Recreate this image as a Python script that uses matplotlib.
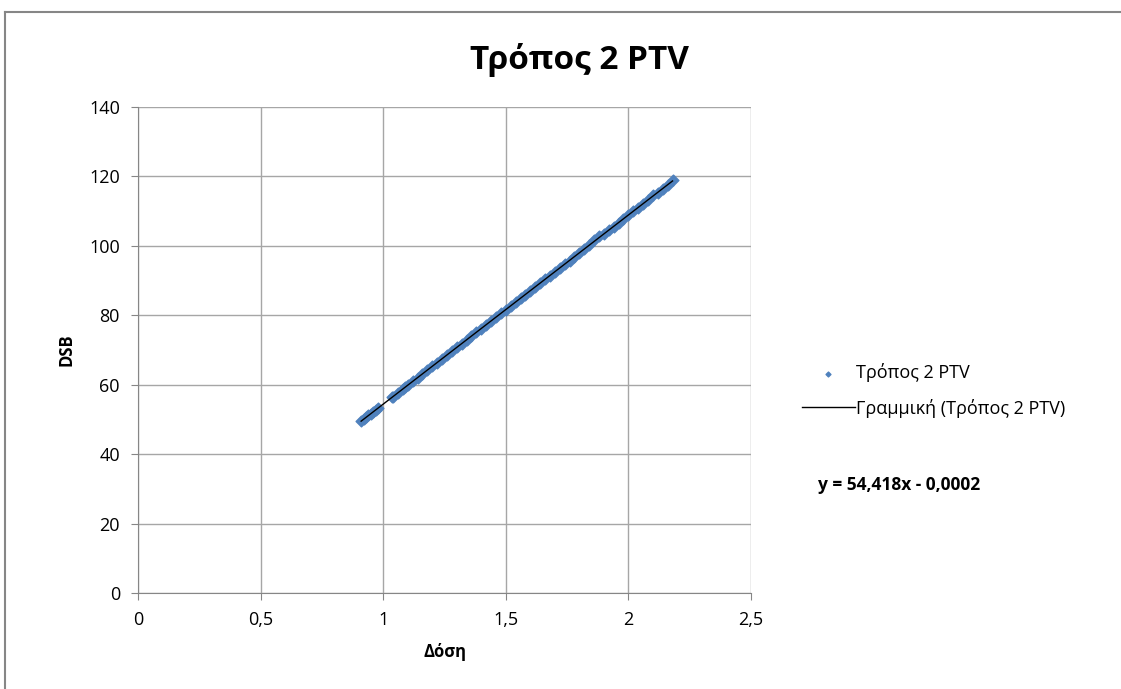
import matplotlib
matplotlib.use("Agg")
import matplotlib.pyplot as plt
import numpy as np
from matplotlib.lines import Line2D

plt.rcParams['font.family'] = ['Open Sans', 'DejaVu Sans']

# dose (x) and DSB (y) values
dose = [0.91, 0.92, 0.93, 0.94, 0.95, 0.96, 0.97, 0.98, 1.035, 1.04,
        1.06, 1.08, 1.09, 1.10, 1.12, 1.14, 1.16, 1.18, 1.20, 1.22, 1.24, 1.26,
        1.28, 1.30, 1.32, 1.34, 1.36, 1.38, 1.40, 1.42, 1.44, 1.46,
        1.48, 1.50, 1.52, 1.54, 1.56, 1.58, 1.60, 1.62, 1.64, 1.66,
        1.68, 1.70, 1.72, 1.74, 1.76, 1.78, 1.80, 1.82, 1.84, 1.86,
        1.88, 1.90, 1.92, 1.94, 1.96, 1.98, 2.00, 2.02, 2.04, 2.06,
        2.08, 2.10, 2.12, 2.14, 2.16, 2.18]
dsb = [49.52, 50.06, 50.61, 51.15, 51.70, 52.24, 52.79, 53.33, 56.32, 56.59,
       57.68, 58.77, 59.32, 59.86, 60.95, 62.04, 63.12, 64.21, 65.30, 66.39, 67.48, 68.57,
       69.66, 70.74, 71.83, 72.92, 74.01, 75.10, 76.19, 77.27, 78.36, 79.45,
       80.54, 81.63, 82.72, 83.80, 84.89, 85.98, 87.07, 88.16, 89.25, 90.33,
       91.42, 92.51, 93.60, 94.69, 95.78, 96.86, 97.95, 99.04, 100.13, 101.6,
       102.8, 103.39, 104.48, 105.57, 106.66, 107.75, 108.84, 109.92, 111.01, 112.10,
       113.19, 114.6, 115.37, 116.45, 117.54, 118.9]

xticks = [0, 0.5, 1, 1.5, 2, 2.5]
xtick_labels = ["0", "0,5", "1", "1,5", "2", "2,5"]
yticks = [0, 20, 40, 60, 80, 100, 120, 140]

fig = plt.figure(figsize=(11.21, 6.89), dpi=100)
ax = fig.add_axes([138/1121, 1 - 593/689, (751 - 138)/1121, (593 - 107)/689])

# chart area border
fig.add_artist(Line2D([5/1121, 5/1121], [0, 1 - 12/689], color="#868686", lw=1.5, transform=fig.transFigure))
fig.add_artist(Line2D([5/1121, 1], [1 - 12/689, 1 - 12/689], color="#868686", lw=1.5, transform=fig.transFigure))

ax.scatter(dose, dsb, marker="D", s=30, color="#4F81BD", edgecolors="#4F81BD", zorder=3,
           label="Τρόπος 2 PTV")

# linear trend line
slope, intercept = np.polyfit(dose, dsb, 1)
xs = np.array([min(dose), max(dose)])
ax.plot(xs, slope * xs + intercept, color="black", lw=1.0, zorder=4,
        label="Γραμμική (Τρόπος 2 PTV)")

ax.set_xlim(0, 2.5)
ax.set_ylim(0, 140)
ax.set_xticks(xticks)
ax.set_xticklabels(xtick_labels)
ax.set_yticks(yticks)
ax.grid(True, color="#A6A6A6", lw=1.0)
ax.set_axisbelow(True)
for s in ["top", "right"]:
    ax.spines[s].set_visible(False)
for s in ["left", "bottom"]:
    ax.spines[s].set_color("#868686")
ax.tick_params(direction="out", length=5, color="#868686", labelsize=13, pad=8)

ax.set_xlabel("Δόση", fontsize=12, fontweight="bold", labelpad=10)
ax.set_ylabel("DSB", fontsize=12, fontweight="bold", labelpad=10)
fig.text(580/1121, 1 - 60/689, "Τρόπος 2 PTV", fontsize=24, fontweight="bold",
         ha="center", va="center")

fig.legend(loc="upper left", bbox_to_anchor=(786/1121, 1 - 347/689), frameon=False,
           fontsize=13, handlelength=2.9, labelspacing=0.9, markerscale=0.45,
           handletextpad=0.1)
fig.text(818/1121, 1 - 485/689, "y = 54,418x - 0,0002", fontsize=12.5, fontweight="bold",
         ha="left", va="center")

fig.savefig("out.png", dpi=100)
